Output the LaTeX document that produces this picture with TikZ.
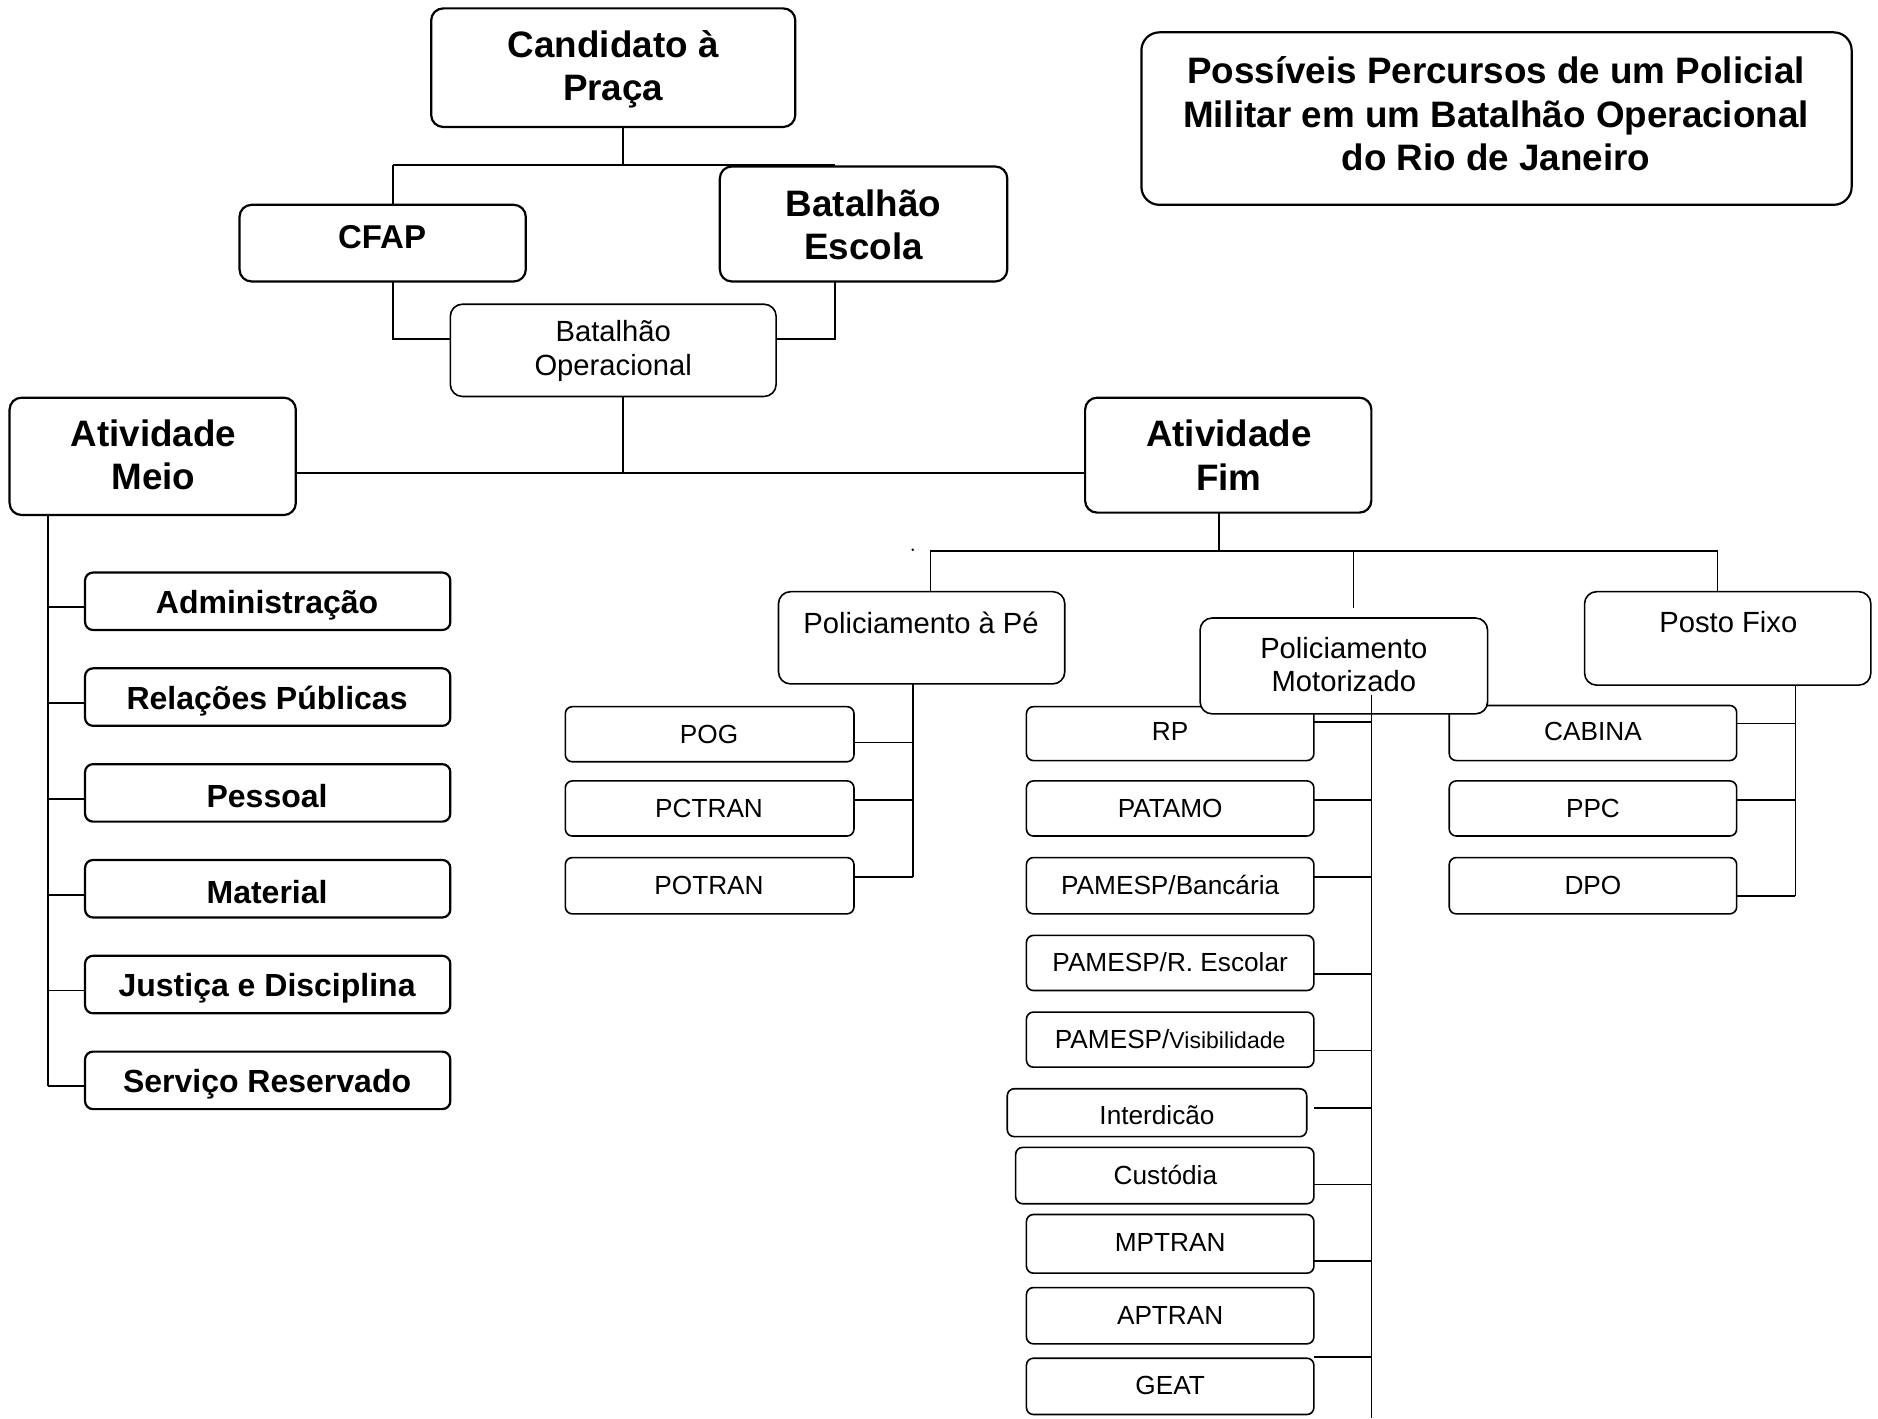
\documentclass[tikz,border=0pt]{standalone}
\usepackage{fontspec}
\setmainfont{Liberation Sans}
\newcommand\mkbox[6][]{\node[bxs,#1,minimum width={(#5-#3)*0.59885pt},minimum height={(#6-#4)*0.59885pt}] (#2) at ({(#3+#5)/2},{(#4+#6)/2}) {};}
\begin{document}
\begin{tikzpicture}[x=0.59885pt,y=-0.59885pt,
  bxs/.style={draw,fill=white,rounded corners=3.5pt,line width=0.8pt,inner sep=0pt,outer sep=0pt},
  bxb/.style={line width=1.1pt,rounded corners=6pt},
  bxm/.style={line width=1.1pt,rounded corners=4pt},
  bxp/.style={rounded corners=6pt},
  ln/.style={line width=0.85pt},
  lnB/.style={line width=1.1pt},
  tB/.style={inner sep=0pt,align=center,font=\bfseries\fontsize{18.4}{21.6}\selectfont},
  tC/.style={inner sep=0pt,align=center,font=\bfseries\fontsize{16.5}{19}\selectfont},
  tM/.style={inner sep=0pt,align=center,font=\bfseries\fontsize{16}{19}\selectfont},
  tP/.style={inner sep=0pt,align=center,font=\fontsize{14.6}{16.8}\selectfont},
  tS/.style={inner sep=0pt,font=\fontsize{13.1}{15}\selectfont}]
\useasboundingbox (0,0) rectangle (1568,1184);

% ---------- boxes ----------
\mkbox[bxb]{cand}{360}{7}{664}{106}
\mkbox[bxb]{cfap}{200}{171}{439}{235}
\mkbox[bxb]{besc}{601}{139}{841}{235}
\mkbox[bxp]{batop}{376}{254}{648}{331}
\mkbox[bxb]{meio}{8}{332}{247}{430}
\mkbox[bxb]{fim}{906}{332}{1145}{428}
\mkbox[bxb,rounded corners=9pt]{title}{953}{27}{1546}{171}

\mkbox[bxm]{adm}{71}{478}{376}{526}
\mkbox[bxm]{rel}{71}{558}{376}{606}
\mkbox[bxm]{pes}{71}{638}{376}{686}
\mkbox[bxm]{mat}{71}{718}{376}{766}
\mkbox[bxm]{jus}{71}{798}{376}{846}
\mkbox[bxm]{ser}{71}{878}{376}{926}

\mkbox[bxp]{pe}{650}{494}{889}{571}
\mkbox[bxp]{fixo}{1323}{494}{1562}{572}

\mkbox{pog}{472}{590}{713}{636}
\mkbox{pct}{472}{652}{713}{698}
\mkbox{pot}{472}{716}{713}{763}

\mkbox{rp}{857}{590}{1097}{635}
\mkbox{pat}{857}{652}{1097}{698}
\mkbox{ban}{857}{716}{1097}{763}
\mkbox{esc}{857}{781}{1097}{827}
\mkbox{vis}{857}{845}{1097}{891}
\mkbox{int}{841}{909}{1091}{949}
\mkbox{cus}{848}{958}{1097}{1005}
\mkbox{mpt}{857}{1014}{1097}{1063}
\mkbox{apt}{857}{1075}{1097}{1122}
\mkbox{geat}{857}{1134}{1097}{1181}

\mkbox{cab}{1210}{589}{1450}{635}
\mkbox{ppc}{1210}{652}{1450}{698}
\mkbox{dpo}{1210}{716}{1450}{763}

\mkbox[bxp]{mot}{1002}{516}{1242}{596}

% ---------- connectors ----------
\coordinate (j1) at (520,138);
\coordinate (jL) at (328,138);
\coordinate (jR) at (697,138);
\draw[ln] (cand.south -| j1) -- (j1);
\draw[ln] (jL) -- (jR);
\draw[ln] (jL) -- (jL |- cfap.north);
\coordinate (k1) at (328,283);
\coordinate (k2) at (697,283);
\draw[ln] (k1 |- cfap.south) -- (k1) -- (batop.west |- k1);
\draw[ln] (k2 |- besc.south) -- (k2) -- (batop.east |- k2);
\coordinate (m1) at (520,395);
\draw[ln] (m1 |- batop.south) -- (m1);
\draw[lnB] (meio.east |- m1) -- (fim.west |- m1);

% Atividade Meio tree
\foreach \n/\y in {adm/507,rel/587,pes/667,mat/747,jus/827,ser/907}{
  \coordinate (mt-\n) at (40,\y);
  \draw[ln] (mt-\n) -- (\n.west |- mt-\n);
}
\draw[ln] (mt-ser |- meio.south) -- (mt-ser);

% Atividade Fim tree
\coordinate (f1) at (1018,460);
\draw[ln] (f1 |- fim.south) -- (f1);
\coordinate (fa) at (777,460);
\coordinate (fb) at (1130,460);
\coordinate (fbe) at (1130,508);
\coordinate (fc) at (1434,460);
\draw[ln] (fa |- pe.north) -- (fa) -- (fc) -- (fc |- fixo.north);
\draw[ln] (fb) -- (fbe);
\coordinate (dot) at (762,459);
\fill (dot) circle (0.7pt);

% Policiamento a Pe
\foreach \n/\y in {pog/620,pct/668,pot/732}{
  \coordinate (pt-\n) at (762,\y);
  \draw[ln] (pt-\n) -- (\n.east |- pt-\n);
}
\draw[ln] (pt-pot |- pe.south) -- (pt-pot);

% Policiamento Motorizado
\foreach \n/\y in {rp/603,pat/668,ban/732,esc/813,vis/877,int/925,cus/989,mpt/1053,geat/1133}{
  \coordinate (mm-\n) at (1145,\y);
  \draw[ln] (mm-\n) -- (rp.east |- mm-\n);
}
\coordinate (mtop) at (1145,580);
\coordinate (mbot) at (1145,1184);
\draw[ln] (mtop) -- (mbot);

% Posto Fixo
\foreach \n/\y in {cab/604,ppc/668,dpo/748}{
  \coordinate (pf-\n) at (1499,\y);
  \draw[ln] (pf-\n) -- (\n.east |- pf-\n);
}
\draw[ln] (pf-dpo |- fixo.south) -- (pf-dpo);

% ---------- texts ----------
\node[tB] (cand-t) at (512,58) {Candidato à\\Praça};
\node[tC] (cfap-t) at (319,198) {CFAP};
\node[tB] (besc-t) at (721,188) {Batalhão\\Escola};
\node[tP] (batop-t) at (512,293) {Batalhão\\Operacional};
\node[tB] (meio-t) at (128,380) {Atividade\\Meio};
\node[tB] (fim-t) at (1026,380) {Atividade\\Fim};
\node[tB] (title-t) at (1249,95) {Possíveis Percursos de um Policial\\Militar em um Batalhão Operacional\\do Rio de Janeiro};

\node[tM] (adm-t) at (223,505) {Administração};
\node[tM] (rel-t) at (223,585) {Relações Públicas};
\node[tM] (pes-t) at (223,665) {Pessoal};
\node[tM] (mat-t) at (223,745) {Material};
\node[tM] (jus-t) at (223,825) {Justiça e Disciplina};
\node[tM] (ser-t) at (223,905) {Serviço Reservado};

\node[tP] (pe-t) at (769,520) {Policiamento à Pé};
\node[tP] (mot-t) at (1122,555) {Policiamento\\Motorizado};
\node[tP] (fixo-t) at (1443,519) {Posto Fixo};

\node[tS] (pog-t) at (592,613) {POG};
\node[tS] (pct-t) at (592,675) {PCTRAN};
\node[tS] (pot-t) at (592,739) {POTRAN};

\node[tS] (rp-t) at (977,611) {RP};
\node[tS] (pat-t) at (977,675) {PATAMO};
\node[tS] (ban-t) at (977,739) {PAMESP/Bancária};
\node[tS] (esc-t) at (977,803) {PAMESP/R. Escolar};
\node[tS] (vis-t) at (977,868) {PAMESP/{\fontsize{11.5}{13}\selectfont Visibilidade}};
\node[tS] (int-t) at (966,931) {Interdicão};
\node[tS] (cus-t) at (973,981) {Custódia};
\node[tS] (mpt-t) at (977,1037) {MPTRAN};
\node[tS] (apt-t) at (977,1098) {APTRAN};
\node[tS] (geat-t) at (977,1157) {GEAT};

\node[tS] (cab-t) at (1330,611) {CABINA};
\node[tS] (ppc-t) at (1330,675) {PPC};
\node[tS] (dpo-t) at (1330,739) {DPO};
\end{tikzpicture}
\end{document}
